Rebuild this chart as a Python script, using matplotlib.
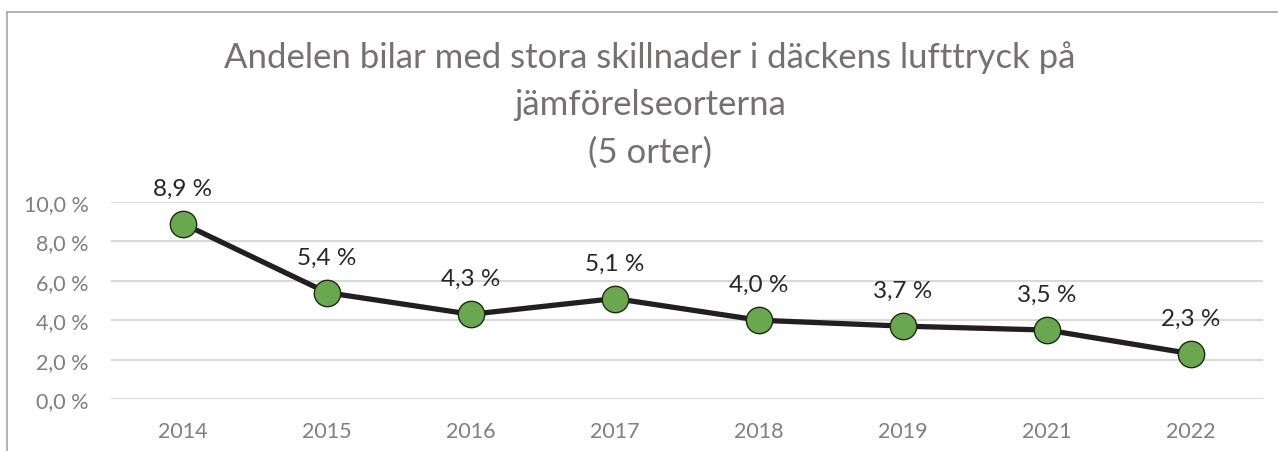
import matplotlib.pyplot as plt
from matplotlib.lines import Line2D

# data
years = ["2014", "2015", "2016", "2017", "2018", "2019", "2021", "2022"]
andel = [8.9, 5.4, 4.3, 5.1, 4.0, 3.7, 3.5, 2.3]
yticks = [0, 2, 4, 6, 8, 10]

plt.rcParams['font.family'] = ['Lato', 'DejaVu Sans']

fig = plt.figure(figsize=(12.78, 4.52), dpi=100)
ax = fig.add_axes([111/1278, 52/452, 1152/1278, 197/452])

x = list(range(len(years)))
ax.plot(x, andel, color="#231f20", lw=3.8, zorder=3,
        marker="o", markersize=19, markerfacecolor="#6aa84f",
        markeredgecolor="#1e2a14", markeredgewidth=1.0)

for xi, v in zip(x, andel):
    ax.annotate(f"{v:.1f} %".replace(".", ","), (xi, v), xytext=(0, 18),
                textcoords="offset points", ha="center", va="bottom",
                fontsize=17.5, color="#262626")

ax.set_xlim(-0.5, len(years) - 0.5)
ax.set_ylim(0, 10)
ax.set_xticks(x)
ax.set_xticklabels(years)
ax.set_yticks(yticks)
ax.set_yticklabels([f"{t:.1f} %".replace(".", ",") for t in yticks])
ax.tick_params(length=0, labelsize=15.5, labelcolor="#7f7f7f")
ax.tick_params(axis="x", pad=16)
ax.tick_params(axis="y", pad=16)
ax.grid(axis="y", color="#d9d9d9", lw=1.5)
ax.set_axisbelow(True)
for s in ax.spines.values():
    s.set_visible(False)

fig.text(650/1278, 1 - 58/452,
         "Andelen bilar med stora skillnader i däckens lufttryck på",
         ha="center", va="center", fontsize=25, color="#767171")
fig.text(650/1278, 1 - 105/452, "jämförelseorterna",
         ha="center", va="center", fontsize=25, color="#767171")
fig.text(650/1278, 1 - 153/452, "(5 orter)",
         ha="center", va="center", fontsize=25, color="#767171")

# border of the chart box (cropped at right and bottom)
fig.add_artist(Line2D([7/1278, 1], [1 - 13/452, 1 - 13/452], color="#a6a6a6", lw=1.2))
fig.add_artist(Line2D([7/1278, 7/1278], [0, 1 - 13/452], color="#a6a6a6", lw=1.2))

fig.savefig("out.png", dpi=100)
